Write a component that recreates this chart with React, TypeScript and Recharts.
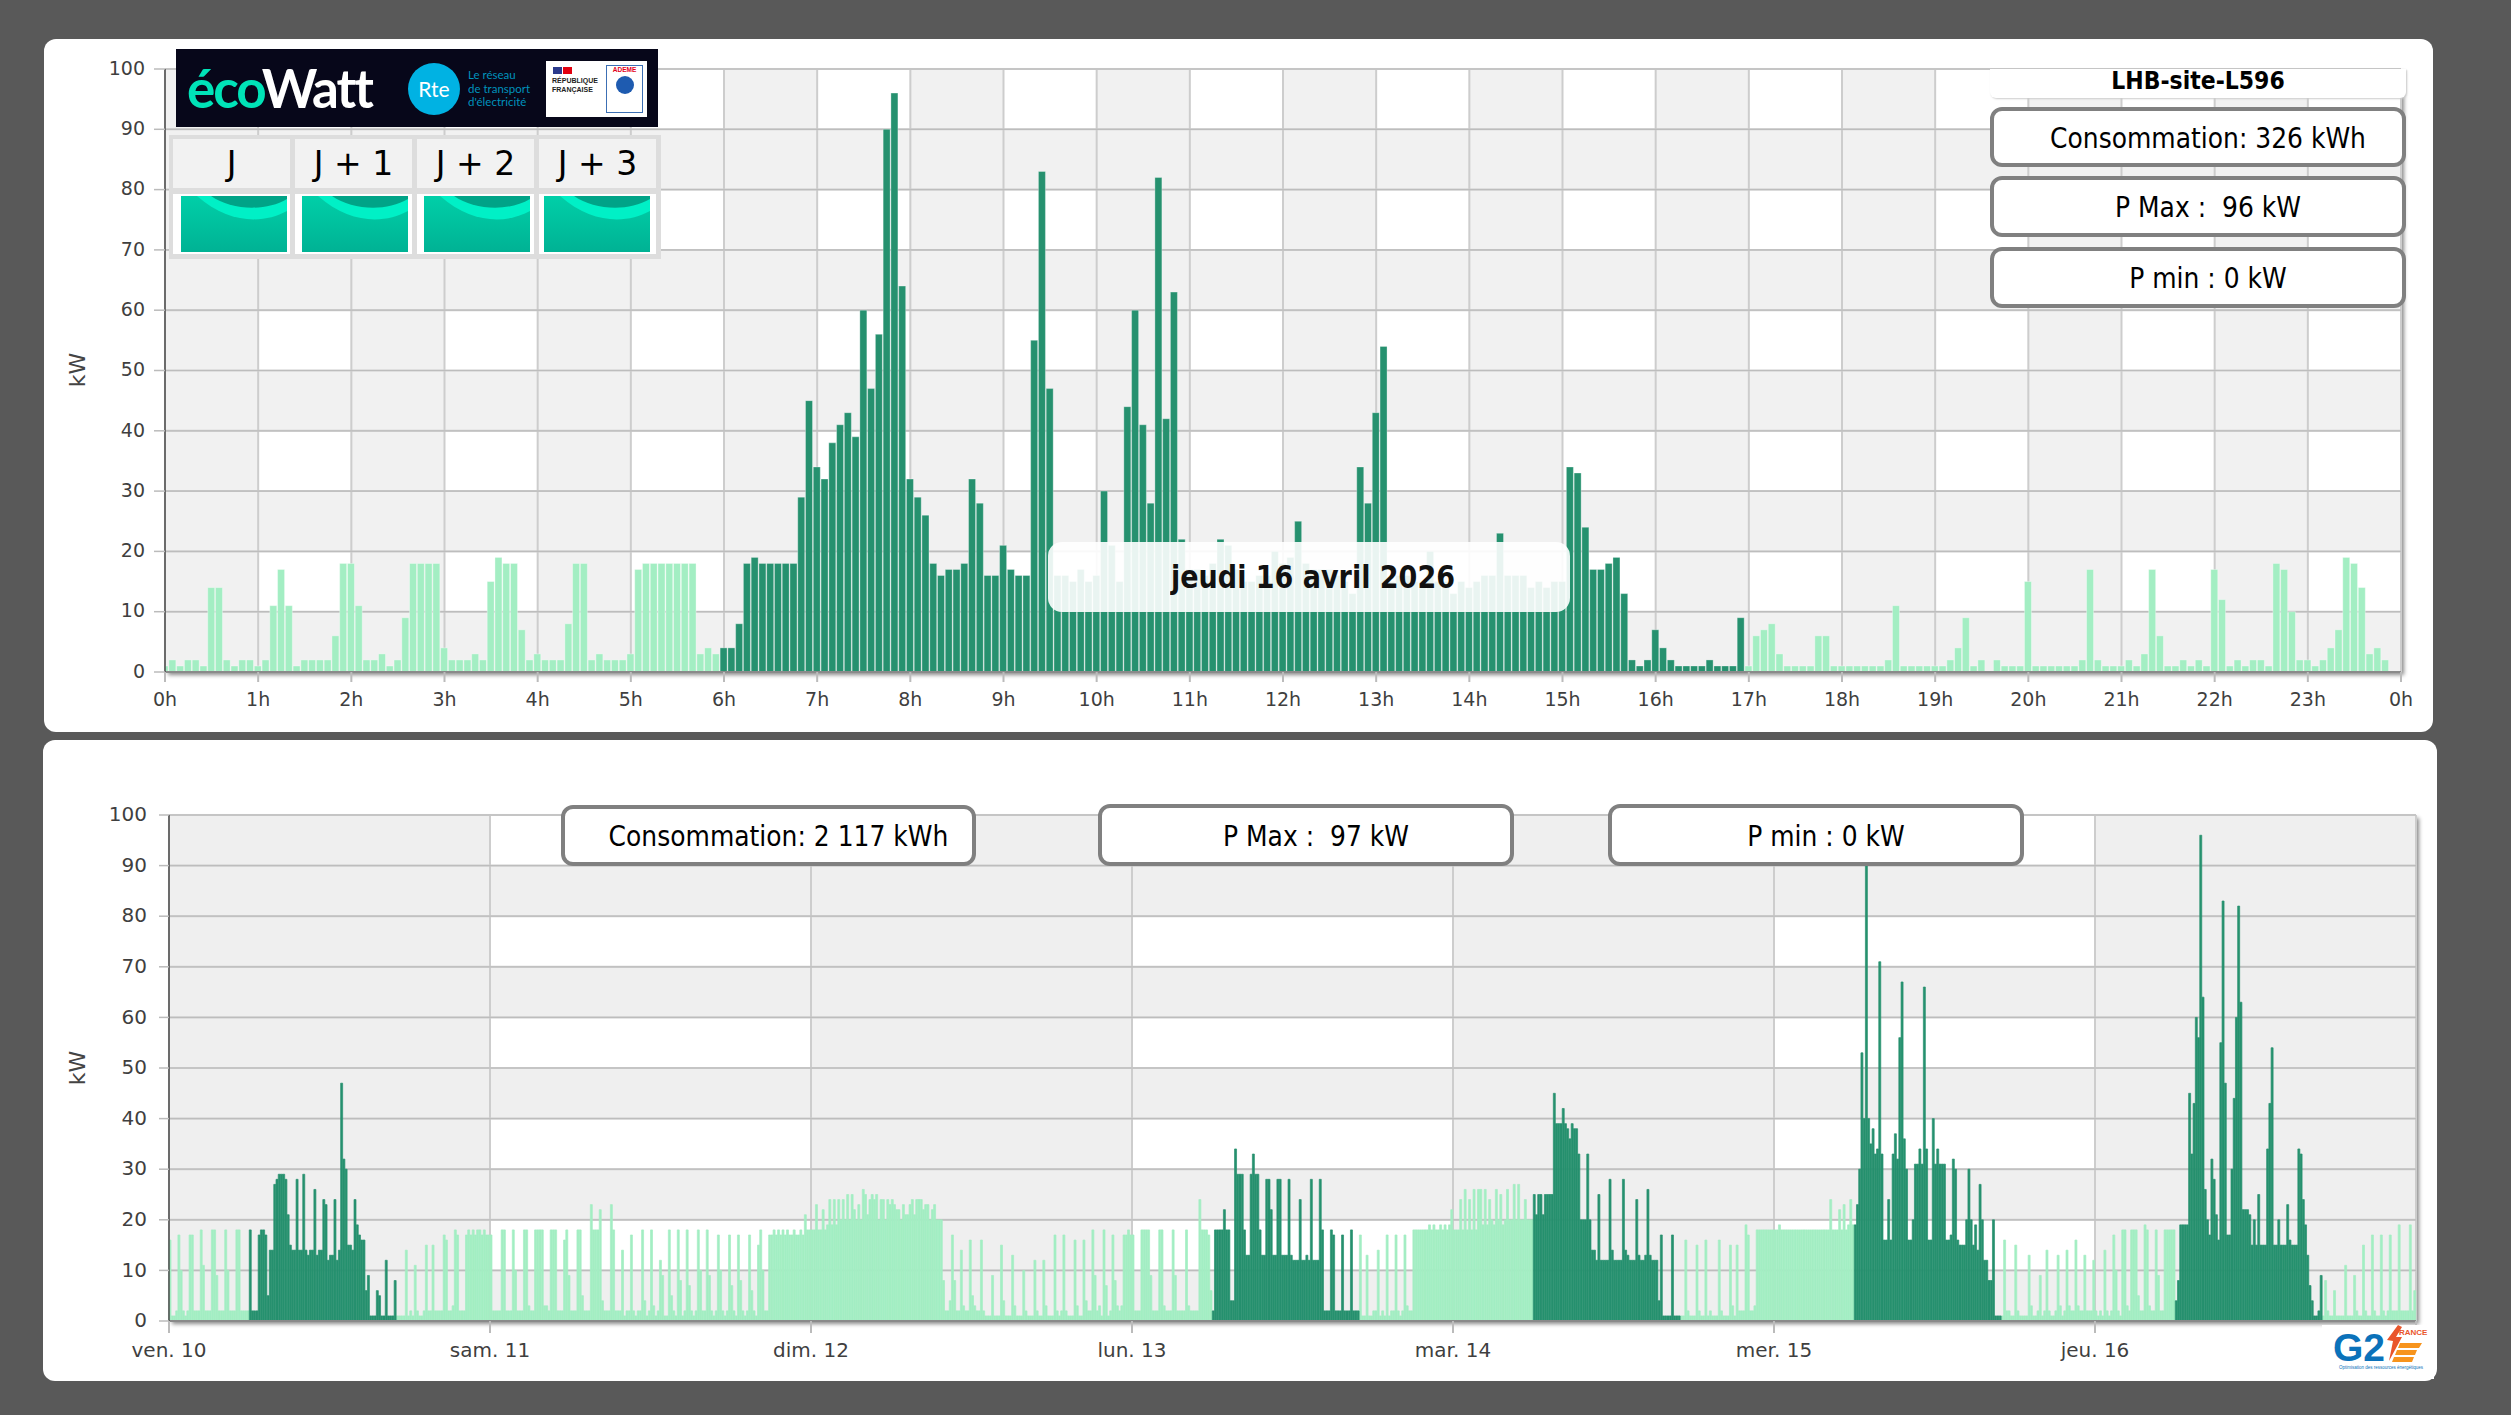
import React from "react";
import { BarChart, Bar, XAxis, YAxis, CartesianGrid } from "recharts";

// ---- Top chart: 5-minute power readings (kW) for jeudi 16 avril, one row per hour
const dayPower = [
  1, 2, 1, 2, 2, 1, 14, 14, 2, 1, 2, 2,
  1, 2, 11, 17, 11, 1, 2, 2, 2, 2, 6, 18,
  18, 11, 2, 2, 3, 1, 2, 9, 18, 18, 18, 18,
  4, 2, 2, 2, 3, 2, 15, 19, 18, 18, 7, 2,
  3, 2, 2, 2, 8, 18, 18, 2, 3, 2, 2, 2,
  3, 17, 18, 18, 18, 18, 18, 18, 18, 3, 4, 3,
  4, 4, 8, 18, 19, 18, 18, 18, 18, 18, 29, 45,
  34, 32, 38, 41, 43, 39, 60, 47, 56, 90, 96, 64,
  32, 29, 26, 18, 16, 17, 17, 18, 32, 28, 16, 16,
  21, 17, 16, 16, 55, 83, 47, 16, 16, 15, 17, 15,
  16, 30, 21, 15, 44, 60, 41, 28, 82, 42, 63, 22,
  17, 17, 16, 18, 22, 21, 17, 15, 15, 16, 16, 20,
  18, 19, 25, 18, 17, 17, 17, 16, 15, 13, 34, 28,
  43, 54, 15, 16, 16, 15, 15, 20, 15, 15, 13, 15,
  14, 15, 16, 16, 23, 16, 16, 16, 14, 15, 14, 15,
  15, 34, 33, 24, 17, 17, 18, 19, 13, 2, 1, 2,
  7, 4, 2, 1, 1, 1, 1, 2, 1, 1, 1, 9,
  1, 6, 7, 8, 3, 1, 1, 1, 1, 6, 6, 1,
  1, 1, 1, 1, 1, 1, 2, 11, 1, 1, 1, 1,
  1, 1, 2, 4, 9, 1, 2, 0, 2, 1, 1, 1,
  15, 1, 1, 1, 1, 1, 1, 2, 17, 2, 1, 1,
  1, 2, 1, 3, 17, 6, 1, 1, 2, 1, 2, 1,
  17, 12, 1, 2, 1, 2, 2, 1, 18, 17, 10, 2,
  2, 1, 2, 4, 7, 19, 18, 14, 3, 4, 2, 0,
];
const hourLabels = ["0h","1h","2h","3h","4h","5h","6h","7h","8h","9h","10h","11h","12h","13h","14h","15h","16h","17h","18h","19h","20h","21h","22h","23h","0h"];

// ---- Bottom chart: week of readings (kW), sampled every 10 minutes, one row per 2 hours
const fri10 = [
  16, 1, 1, 2, 17, 10, 2, 1, 2, 17, 17, 2,
  2, 2, 18, 11, 2, 2, 2, 18, 18, 9, 2, 2,
  2, 18, 10, 2, 2, 2, 18, 18, 2, 2, 2, 2,
  18, 2, 2, 2, 17, 18, 18, 17, 5, 14, 14, 27,
  28, 29, 29, 29, 28, 21, 15, 14, 14, 28, 14, 14,
  29, 14, 13, 14, 14, 26, 13, 14, 14, 24, 23, 12,
  13, 13, 24, 12, 14, 47, 32, 30, 15, 15, 14, 24,
  19, 17, 16, 16, 6, 9, 1, 1, 1, 6, 5, 1,
  1, 12, 1, 1, 1, 8, 1, 1, 1, 1, 14, 1,
  2, 1, 11, 2, 1, 1, 2, 15, 2, 2, 15, 2,
  2, 2, 2, 17, 16, 2, 2, 3, 18, 17, 2, 2,
  2, 17, 18, 17, 18, 17, 18, 18, 17, 18, 17, 17,
];
const sat11 = [
  17, 2, 2, 2, 2, 18, 18, 2, 2, 2, 18, 10,
  2, 2, 2, 18, 18, 3, 2, 2, 18, 18, 18, 18,
  3, 3, 2, 18, 18, 18, 2, 2, 2, 16, 18, 9,
  2, 2, 2, 18, 18, 5, 2, 2, 2, 23, 18, 18,
  18, 22, 4, 2, 2, 2, 23, 18, 2, 2, 2, 14,
  1, 2, 2, 17, 2, 1, 2, 2, 18, 4, 1, 2,
  18, 3, 1, 2, 12, 9, 1, 1, 18, 5, 2, 1,
  18, 8, 1, 2, 18, 7, 2, 1, 2, 18, 10, 2,
  2, 18, 9, 2, 1, 2, 17, 10, 2, 1, 2, 17,
  7, 2, 1, 17, 8, 2, 1, 2, 17, 6, 2, 1,
  15, 18, 10, 2, 2, 17, 17, 18, 17, 18, 17, 18,
  17, 18, 17, 17, 18, 17, 17, 18, 17, 21, 18, 18,
];
const sun12 = [
  18, 18, 23, 18, 18, 22, 18, 19, 24, 19, 24, 19,
  24, 20, 24, 20, 25, 20, 25, 22, 20, 23, 20, 26,
  25, 21, 24, 25, 24, 25, 20, 24, 24, 20, 24, 23,
  24, 23, 22, 22, 20, 23, 21, 21, 23, 24, 21, 24,
  24, 24, 22, 23, 23, 20, 22, 23, 20, 20, 20, 8,
  2, 2, 4, 17, 8, 2, 2, 14, 3, 2, 2, 16,
  5, 3, 2, 2, 16, 2, 1, 1, 1, 9, 1, 1,
  1, 15, 4, 1, 1, 1, 13, 3, 1, 1, 1, 10,
  2, 1, 1, 1, 12, 2, 1, 1, 12, 3, 1, 1,
  1, 17, 2, 1, 2, 17, 2, 1, 1, 1, 16, 3,
  1, 1, 16, 4, 2, 2, 18, 9, 2, 3, 1, 18,
  7, 1, 2, 17, 8, 3, 2, 3, 17, 17, 18, 17,
];
const mon13 = [
  17, 2, 2, 2, 18, 18, 18, 18, 9, 2, 2, 2,
  18, 18, 3, 2, 2, 2, 18, 9, 2, 2, 2, 2,
  18, 3, 2, 2, 2, 2, 24, 18, 18, 18, 17, 6,
  2, 18, 18, 18, 18, 22, 18, 18, 4, 4, 34, 29,
  29, 29, 18, 13, 13, 29, 33, 29, 29, 18, 13, 13,
  28, 28, 22, 13, 13, 28, 28, 13, 13, 13, 28, 13,
  12, 12, 12, 24, 12, 12, 13, 12, 28, 12, 12, 12,
  28, 18, 2, 2, 2, 18, 17, 2, 2, 2, 17, 2,
  2, 2, 18, 2, 2, 2, 17, 1, 1, 13, 1, 1,
  2, 2, 14, 1, 2, 1, 17, 1, 2, 2, 17, 2,
  1, 2, 17, 3, 2, 2, 18, 18, 18, 18, 18, 18,
  18, 19, 18, 19, 18, 18, 19, 18, 19, 18, 19, 22,
];
const tue14 = [
  18, 18, 18, 24, 18, 26, 18, 24, 18, 26, 18, 26,
  26, 19, 26, 19, 24, 20, 19, 26, 20, 25, 19, 20,
  26, 20, 20, 27, 20, 27, 20, 20, 24, 20, 20, 20,
  25, 21, 25, 25, 21, 25, 25, 25, 25, 45, 39, 39,
  39, 42, 39, 38, 36, 39, 38, 38, 33, 20, 20, 20,
  33, 20, 14, 14, 12, 25, 12, 12, 12, 12, 28, 14,
  12, 12, 12, 12, 28, 14, 13, 12, 12, 12, 24, 13,
  12, 12, 13, 26, 13, 12, 12, 12, 4, 17, 1, 1,
  1, 1, 17, 1, 1, 1, 1, 1, 16, 2, 1, 1,
  1, 15, 2, 1, 1, 16, 1, 2, 1, 1, 1, 16,
  2, 1, 1, 1, 15, 3, 1, 15, 2, 2, 2, 19,
  17, 2, 2, 3, 18, 18, 18, 18, 18, 18, 18, 18,
];
const wed15 = [
  18, 18, 19, 18, 18, 18, 18, 18, 18, 18, 18, 18,
  18, 18, 18, 18, 18, 18, 18, 18, 18, 18, 18, 18,
  18, 24, 18, 18, 18, 22, 18, 23, 18, 19, 24, 19,
  19, 23, 30, 53, 40, 97, 40, 35, 38, 33, 34, 71,
  33, 16, 16, 24, 16, 33, 37, 32, 56, 67, 36, 30,
  16, 16, 20, 31, 31, 34, 31, 66, 34, 16, 16, 40,
  31, 34, 31, 31, 31, 16, 16, 17, 32, 30, 16, 15,
  15, 15, 20, 30, 20, 15, 19, 14, 27, 20, 12, 12,
  8, 8, 20, 1, 1, 1, 1, 16, 2, 2, 1, 1,
  15, 2, 1, 1, 1, 1, 13, 3, 1, 1, 2, 9,
  1, 2, 14, 2, 1, 1, 2, 13, 3, 1, 2, 14,
  3, 2, 2, 16, 3, 2, 2, 13, 2, 2, 2, 12,
];
const thu16 = [
  2, 1, 2, 1, 14, 2, 1, 2, 17, 10, 2, 1,
  18, 18, 3, 2, 18, 18, 18, 5, 2, 2, 19, 18,
  3, 2, 2, 18, 9, 2, 2, 18, 18, 18, 18, 18,
  4, 8, 19, 19, 19, 19, 45, 33, 43, 60, 56, 96,
  64, 26, 20, 17, 32, 28, 21, 16, 55, 83, 47, 17,
  17, 30, 44, 60, 82, 63, 22, 22, 22, 21, 15, 20,
  15, 25, 15, 15, 15, 34, 43, 54, 15, 15, 20, 15,
  15, 15, 23, 16, 15, 15, 15, 34, 33, 24, 19, 13,
  7, 4, 1, 1, 2, 9, 1, 8, 2, 1, 1, 6,
  1, 1, 1, 1, 11, 1, 1, 1, 9, 2, 1, 1,
  15, 2, 1, 1, 17, 2, 1, 1, 17, 2, 1, 2,
  17, 2, 2, 2, 19, 2, 2, 2, 2, 19, 2, 6,
];
const weekDays = [fri10, sat11, sun12, mon13, tue14, wed15, thu16];
const workingDays = [true, false, false, true, true, true, true];
const dayLabels = ["ven. 10", "sam. 11", "dim. 12", "lun. 13", "mar. 14", "mer. 15", "jeu. 16", ""];
const yTicks = [0, 10, 20, 30, 40, 50, 60, 70, 80, 90, 100];

// Colours
const DARK = "#26916F";
const LIGHT = "#A3EEC3";
const FONT = "'DejaVu Sans', Verdana, sans-serif";

// Tables built from the arrays above
const topData = dayPower.map((v, i) => {
  const working = i >= 72 && i < 204;
  return { x: i, dark: working ? v : 0, light: working ? 0 : v };
});
const weekData = weekDays.flatMap((day, d) =>
  day.map((v, i) => {
    const working = workingDays[d] && i >= 36 && i < 102;
    return { x: d * 144 + i + 0.5, dark: working ? v : 0, light: working ? 0 : v };
  })
);
const hourTicks = hourLabels.map((_, i) => i * 12);
const dayTicks = dayLabels.map((_, i) => i * 144);

const abs = (left: number, top: number, width: number, height: number, extra: any = {}) => ({
  position: "absolute" as const, left, top, width, height, boxSizing: "border-box" as const, ...extra,
});

const Tall = ({ k = 1.13, children }: any) => (
  <span style={{ display: "inline-block", transform: `scaleY(${k})`, whiteSpace: "pre" }}>{children}</span>
);

function InfoBox({ left, top, width, height, text }: any) {
  return (
    <div style={abs(left, top, width, height, {
      background: "#fff", border: "4px solid #808080", borderRadius: 12, paddingLeft: 20, paddingTop: 2,
      display: "flex", alignItems: "center", justifyContent: "center",
      fontFamily: FONT, fontSize: 25, color: "#000", whiteSpace: "pre",
    })}><Tall>{text}</Tall></div>
  );
}

function Wave({ left, top }: any) {
  return (
    <svg style={{ position: "absolute", left, top }} width={106} height={56} viewBox="0 0 106 56">
      <defs>
        <linearGradient id={`g${left}`} x1="0" y1="0" x2="0" y2="1">
          <stop offset="0" stopColor="#00CFA8" />
          <stop offset="1" stopColor="#00B294" />
        </linearGradient>
      </defs>
      <rect width={106} height={56} fill={`url(#g${left})`} />
      <path d="M16 0 H106 V15 C82 28 48 28 16 0 Z" fill="#00F0C6" />
      <path d="M30 0 C50 14 84 16 106 3 V0 Z" fill="#00A387" />
    </svg>
  );
}

function EcoWatt() {
  return (
    <>
      <div style={abs(176, 49, 482, 78, { background: "#07071A", overflow: "hidden" })}>
        <div style={{ position: "absolute", left: 11, top: 6, fontFamily: "Lato, sans-serif", fontWeight: 700, fontSize: 53, letterSpacing: -2, lineHeight: "66px", whiteSpace: "pre" }}>
          <span style={{ color: "#00E3B8" }}>éco</span><span style={{ color: "#fff" }}>Watt</span>
        </div>
        <div style={{ position: "absolute", left: 232, top: 14, width: 52, height: 52, borderRadius: 26, background: "#00B2E3", color: "#fff", fontFamily: "Lato, sans-serif", fontSize: 21, textAlign: "center", lineHeight: "52px" }}>Rte</div>
        <div style={{ position: "absolute", left: 292, top: 19, fontFamily: "Lato, sans-serif", fontSize: 11.5, lineHeight: "13.5px", color: "#0092BC", whiteSpace: "pre" }}>{"Le réseau\nde transport\nd'électricité"}</div>
        <div style={{ position: "absolute", left: 370, top: 12, width: 101, height: 56, background: "#fff" }}>
          <div style={{ position: "absolute", left: 7, top: 6, width: 9, height: 7, background: "#2B3A8C" }} />
          <div style={{ position: "absolute", left: 17, top: 6, width: 9, height: 7, background: "#E1000F" }} />
          <div style={{ position: "absolute", left: 6, top: 15, fontFamily: "Liberation Sans, sans-serif", fontWeight: 700, fontSize: 7, lineHeight: "9px", color: "#222", whiteSpace: "pre" }}>{"RÉPUBLIQUE\nFRANÇAISE"}</div>
          <div style={{ position: "absolute", left: 60, top: 4, width: 37, height: 48, border: "1px solid #3C6FB4", textAlign: "center", fontFamily: "Liberation Sans, sans-serif", fontWeight: 700, fontSize: 6.5, color: "#E2001A", boxSizing: "border-box" }}>
            ADEME
            <div style={{ width: 18, height: 18, borderRadius: 9, background: "#1E5BB0", margin: "3px auto 0" }} />
          </div>
        </div>
      </div>
      <div style={abs(169, 135, 492, 124, { background: "#DDDDDD" })} />
      {[["J", 173, 181], ["J + 1", 295, 302], ["J + 2", 417, 424], ["J + 3", 539, 544]].map(([t, l, w]: any) => (
        <React.Fragment key={t}>
          <div style={abs(l, 139, 117, 49, { background: "#F2F2F2", fontFamily: FONT, fontSize: 33, color: "#000", display: "flex", alignItems: "center", justifyContent: "center", whiteSpace: "pre" })}>{t}</div>
          <div style={abs(l, 194, 117, 60, { background: "#fff" })} />
          <Wave left={w} top={196} />
        </React.Fragment>
      ))}
    </>
  );
}

function G2E() {
  return (
    <div style={abs(2322, 1325, 112, 54, { background: "#fff" })}>
      <div style={{ position: "absolute", left: 11, top: 8, fontFamily: "'Liberation Sans', sans-serif", fontWeight: 700, fontSize: 39, lineHeight: "30px", color: "#0B72BA" }}>G2</div>
      <svg style={{ position: "absolute", left: 62, top: 0 }} width={40} height={40} viewBox="0 0 40 40">
        <path d="M14 0 L3 15 L9 16 L5 36 L18 12 L12 12 L18 2 Z" fill="#E9552B" />
        <path d="M16 18 H38 L35 23 H14 Z M13 25 H33 L31 30 H11 Z M10 32 H30 L28 37 H8 Z" fill="#F7941D" />
      </svg>
      <div style={{ position: "absolute", left: 72, top: 3, fontFamily: "'Liberation Sans', sans-serif", fontWeight: 700, fontSize: 8, lineHeight: "9px", color: "#E9552B" }}>FRANCE</div>
      <div style={{ position: "absolute", left: 17, top: 40, fontFamily: "'Liberation Sans', sans-serif", fontSize: 4.5, lineHeight: "6px", color: "#0B72BA", whiteSpace: "pre" }}>Optimisation des ressources énergétiques</div>
    </div>
  );
}

function AxisName({ cx, cy }: any) {
  return (
    <div style={{ position: "absolute", left: cx - 30, top: cy - 14, width: 60, height: 28, lineHeight: "28px", textAlign: "center", transform: "rotate(-90deg)", fontFamily: FONT, fontSize: 22, color: "#444" }}>kW</div>
  );
}

const tickStyle = { fontFamily: FONT, fontSize: 19, fill: "#3F3F3F" };

export default function App() {
  return (
    <div style={abs(0, 0, 2511, 1415, { background: "#595959", overflow: "hidden" })}>
      {/* Panels */}
      <div style={abs(44, 39, 2389, 693, { background: "#fff", borderRadius: 12 })} />
      <div style={abs(43, 740, 2394, 641, { background: "#fff", borderRadius: 12 })} />
      {/* Plot shadows */}
      <div style={abs(165, 69, 2236, 603, { background: "#fff", boxShadow: "3px 3px 4px #8A8A8A" })} />
      <div style={abs(169, 815, 2247, 506, { background: "#fff", boxShadow: "3px 3px 4px #8A8A8A" })} />

      <div style={{ position: "absolute", left: 0, top: 0 }}>
        <BarChart width={2511} height={740} data={topData} margin={{ top: 69, left: 105, right: 110, bottom: 28 }} barCategoryGap={0}>
          <CartesianGrid horizontal vertical stroke="#CDCDCD" strokeWidth={2} horizontalFill={["transparent", "#F1F1F1"]} verticalFill={["#F1F1F1", "transparent"]} fillOpacity={1} />
          <CartesianGrid horizontal vertical={false} stroke="#BDBDBD" strokeWidth={1.2} />
          <XAxis dataKey="x" type="number" domain={[0, 288]} ticks={hourTicks} interval={0} allowDataOverflow
            tickFormatter={(v: number) => hourLabels[v / 12]} height={40} tick={tickStyle}
            stroke="#8A8A8A" strokeWidth={2} tickSize={10} tickMargin={11} tickLine={{ stroke: "#BBB" }} />
          <YAxis type="number" domain={[0, 100]} ticks={yTicks} interval={0} width={60} tick={{ ...tickStyle, dy: -1 }}
            stroke="#4A4A4A" strokeWidth={1.5} tickSize={11} tickMargin={9} tickLine={{ stroke: "#BBB" }} />
          <Bar dataKey="light" stackId="p" fill={LIGHT} stroke="rgba(255,255,255,0.35)" strokeWidth={1} barSize={7.77} isAnimationActive={false} />
          <Bar dataKey="dark" stackId="p" fill={DARK} stroke="rgba(255,255,255,0.3)" strokeWidth={1} barSize={7.77} isAnimationActive={false} />
        </BarChart>
      </div>

      <div style={{ position: "absolute", left: 0, top: 0 }}>
        <BarChart width={2511} height={1415} data={weekData} margin={{ top: 815, left: 109, right: 95, bottom: 54 }} barCategoryGap={0}>
          <CartesianGrid horizontal vertical stroke="#CDCDCD" strokeWidth={2} horizontalFill={["transparent", "#EFEFEF"]} verticalFill={["#EFEFEF", "transparent"]} fillOpacity={1} />
          <CartesianGrid horizontal vertical={false} stroke="#BDBDBD" strokeWidth={1.2} />
          <XAxis dataKey="x" type="number" domain={[0, 1008]} ticks={dayTicks} interval={0}
            tickFormatter={(v: number) => dayLabels[v / 144]} height={40} tick={{ ...tickStyle, fontSize: 20 }}
            stroke="#8A8A8A" strokeWidth={2} tickSize={12} tickMargin={10} tickLine={{ stroke: "#BBB" }} />
          <YAxis type="number" domain={[0, 100]} ticks={yTicks} interval={0} width={60} tick={{ ...tickStyle, fontSize: 20, dy: -1 }}
            stroke="#4A4A4A" strokeWidth={1.5} tickSize={10} tickMargin={12} tickLine={{ stroke: "#BBB" }} />
          <Bar dataKey="light" stackId="w" fill={LIGHT} stroke={LIGHT} strokeWidth={0.7} barSize={2} isAnimationActive={false} />
          <Bar dataKey="dark" stackId="w" fill={DARK} stroke={DARK} strokeWidth={0.7} barSize={2} isAnimationActive={false} />
        </BarChart>
      </div>

      <AxisName cx={78} cy={370} />
      <AxisName cx={78} cy={1068} />

      <EcoWatt />

      {/* Site card */}
      <div style={abs(1990, 69, 416, 29, { background: "#fff", borderRadius: "0 0 6px 6px", boxShadow: "1px 1px 2px #ccc" })} />
      <div style={abs(1992, 66, 412, 30, { fontFamily: FONT, fontWeight: 700, fontSize: 22, color: "#000", textAlign: "center", lineHeight: "30px" })}><Tall k={1.15}>LHB-site-L596</Tall></div>
      <InfoBox left={1990} top={107} width={416} height={60} text="Consommation: 326 kWh" />
      <InfoBox left={1990} top={176} width={416} height={61} text="P Max :  96 kW" />
      <InfoBox left={1990} top={247} width={416} height={61} text="P min : 0 kW" />

      {/* Date banner */}
      <div style={abs(1048, 542, 522, 70, { background: "rgba(255,255,255,0.9)", borderRadius: 14, paddingLeft: 8, fontFamily: FONT, fontWeight: 700, fontSize: 27, color: "#111", display: "flex", alignItems: "center", justifyContent: "center" })}><Tall k={1.15}>jeudi 16 avril 2026</Tall></div>

      <InfoBox left={561} top={805} width={415} height={61} text="Consommation: 2 117 kWh" />
      <InfoBox left={1098} top={804} width={416} height={62} text="P Max :  97 kW" />
      <InfoBox left={1608} top={804} width={416} height={62} text="P min : 0 kW" />

      <G2E />
    </div>
  );
}
